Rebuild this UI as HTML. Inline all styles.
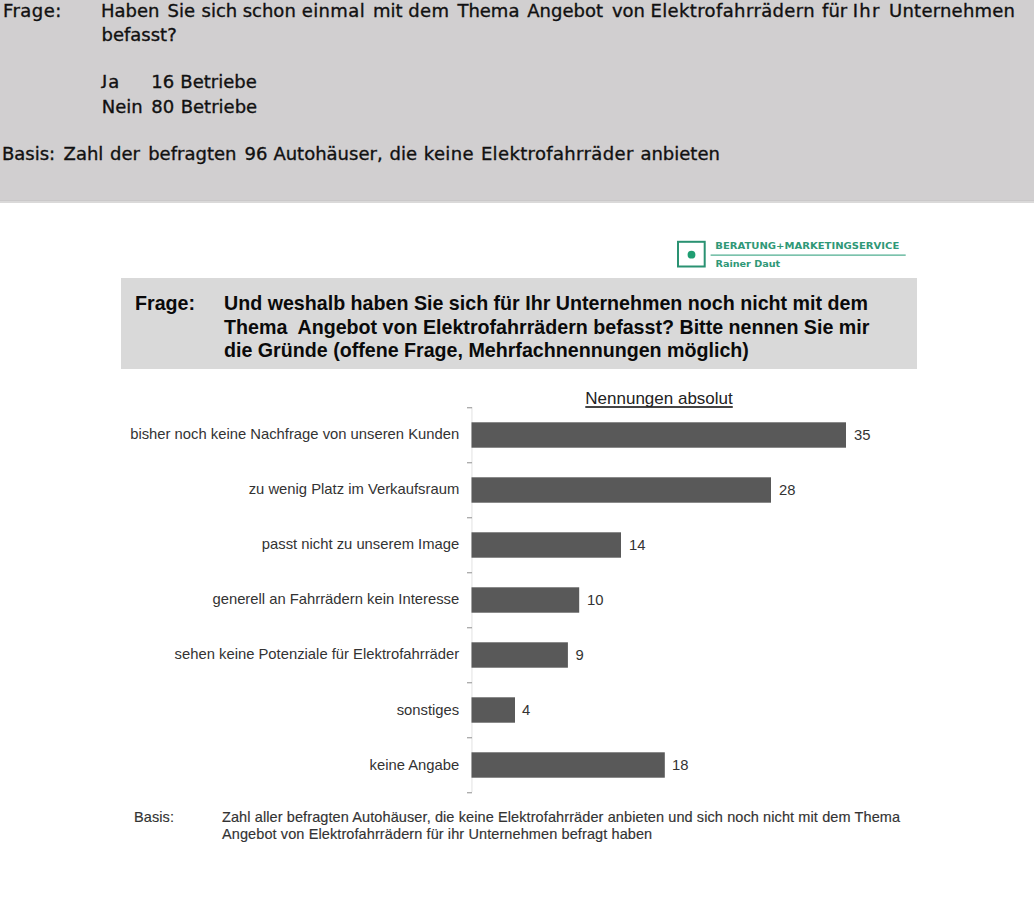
<!DOCTYPE html>
<html lang="de">
<head>
<meta charset="utf-8">
<title>Elektrofahrräder Umfrage</title>
<style>
html,body{margin:0;padding:0;background:#fff;}
body{width:1034px;height:900px;position:relative;overflow:hidden;}
.a{position:absolute;white-space:pre;}
#top{position:absolute;left:0;top:0;width:1034px;height:200px;background:#d1cfd0;border-bottom:1px solid #cac8c9;box-shadow:0 2px 0 #dad9d9;}
.v{font-family:"DejaVu Sans","Liberation Sans",sans-serif;font-size:18px;line-height:24px;color:#111;-webkit-text-stroke:0.35px #111;}
#box{position:absolute;left:121px;top:278px;width:796px;height:91px;background:#d9d9d9;}
.q{font-family:"Liberation Sans",Arial,sans-serif;font-weight:bold;font-size:19.65px;line-height:23.6px;color:#0a0a0a;}
.l{font-family:"Liberation Sans",Arial,sans-serif;font-size:14.8px;line-height:18px;color:#333;}
.b{font-family:"Liberation Sans",Arial,sans-serif;font-size:14.5px;line-height:17px;color:#333;letter-spacing:0.1px;-webkit-text-stroke:0.15px #333;}
</style>
</head>
<body>
<div id="top"></div>
<div class="a v" style="left:3px;top:-1px;letter-spacing:0.45px;">Frage:</div>
<span class="a v" style="left:100.9px;top:-1px;">Haben </span>
<span class="a v" style="left:167.5px;top:-1px;">Sie </span>
<span class="a v" style="left:201.6px;top:-1px;">sich </span>
<span class="a v" style="left:242.7px;top:-1px;">schon </span>
<span class="a v" style="left:301.7px;top:-1px;letter-spacing:0.4px;">einmal </span>
<span class="a v" style="left:372.9px;top:-1px;">mit </span>
<span class="a v" style="left:408.2px;top:-1px;letter-spacing:0.4px;">dem </span>
<span class="a v" style="left:457.4px;top:-1px;">Thema </span>
<span class="a v" style="left:527.3px;top:-1px;">Angebot </span>
<span class="a v" style="left:611.9px;top:-1px;">von </span>
<span class="a v" style="left:650.4px;top:-1px;letter-spacing:0.38px;">Elektrofahrrädern </span>
<span class="a v" style="left:822.1px;top:-1px;">für </span>
<span class="a v" style="left:852.8px;top:-1px;letter-spacing:1.2px;">Ihr </span>
<span class="a v" style="left:889.1px;top:-1px;letter-spacing:0.22px;">Unternehmen</span>
<div class="a v" style="left:101.5px;top:23px;">befasst?</div>
<div class="a v" style="left:102px;top:70px;letter-spacing:1px;"><span style="display:inline-block;transform:scaleY(0.8);transform-origin:0 5px;">J</span>a</div>
<div class="a v" style="left:151.2px;top:70px;">16</div>
<div class="a v" style="left:180.3px;top:70px;">Betriebe</div>
<div class="a v" style="left:101.8px;top:94.7px;">Nein</div>
<div class="a v" style="left:151.2px;top:94.7px;">80</div>
<div class="a v" style="left:180.7px;top:94.7px;">Betriebe</div>
<span class="a v" style="left:1.9px;top:142px;">Basis: </span>
<span class="a v" style="left:63.6px;top:142px;">Zahl </span>
<span class="a v" style="left:110.0px;top:142px;">der </span>
<span class="a v" style="left:148.2px;top:142px;">befragten </span>
<span class="a v" style="left:244.5px;top:142px;">96 </span>
<span class="a v" style="left:273.4px;top:142px;">Autohäuser, </span>
<span class="a v" style="left:389.5px;top:142px;">die </span>
<span class="a v" style="left:423.8px;top:142px;letter-spacing:0.35px;">keine </span>
<span class="a v" style="left:480.9px;top:142px;letter-spacing:0.35px;">Elektrofahrräder </span>
<span class="a v" style="left:640.4px;top:142px;">anbieten</span>

<!-- logo -->
<svg class="a" style="left:660px;top:230px;" width="260" height="45" viewBox="0 0 260 45">
  <rect x="18" y="11.8" width="26.7" height="24.7" fill="none" stroke="#2a9272" stroke-width="2"/>
  <circle cx="31.5" cy="24.7" r="3.9" fill="#1f9e72"/>
  <line x1="50.6" y1="25" x2="245.7" y2="25" stroke="#4fae90" stroke-width="1.25"/>
  <text x="55.3" y="18.9" font-family="DejaVu Sans, Liberation Sans, sans-serif" font-weight="bold" font-size="9.3" fill="#2f9877" textLength="184" lengthAdjust="spacingAndGlyphs">BERATUNG+MARKETINGSERVICE</text>
  <text x="55.5" y="36.9" font-family="DejaVu Sans, Liberation Sans, sans-serif" font-weight="bold" font-size="9.3" fill="#2f9877" textLength="64.7" lengthAdjust="spacingAndGlyphs">Rainer Daut</text>
</svg>

<div id="box"></div>
<div class="a q" style="left:135px;top:292px;">Frage:</div>
<div class="a q" style="left:224px;top:292px;">Und weshalb haben Sie sich für Ihr Unternehmen noch nicht mit dem
Thema  Angebot von Elektrofahrrädern befasst? Bitte nennen Sie mir
die Gründe (offene Frage, Mehrfachnennungen möglich)</div>

<div class="a" style="left:585.3px;top:389.2px;font-family:'Liberation Sans',Arial,sans-serif;font-size:17px;line-height:20px;color:#222;text-decoration:underline;text-underline-offset:2.2px;text-decoration-thickness:1.8px;text-decoration-skip-ink:none;text-decoration-color:#444;">Nennungen absolut</div>

<!-- axis -->
<svg class="a" style="left:0;top:0;" width="1034" height="900" viewBox="0 0 1034 900">
<rect x="471.3" y="407" width="1.3" height="385" fill="#e9e9e9"/>
<rect x="467" y="407.2" width="5" height="1.1" fill="#999"/>
<rect x="467" y="462.2" width="5" height="1.1" fill="#999"/>
<rect x="467" y="517.2" width="5" height="1.1" fill="#999"/>
<rect x="467" y="572.2" width="5" height="1.1" fill="#999"/>
<rect x="467" y="627.2" width="5" height="1.1" fill="#999"/>
<rect x="467" y="682.2" width="5" height="1.1" fill="#999"/>
<rect x="467" y="737.2" width="5" height="1.1" fill="#999"/>
<rect x="467" y="792.2" width="5" height="1.1" fill="#999"/>
<rect x="471.5" y="422.3" width="374.5" height="25.4" fill="#595959"/>
<rect x="471.5" y="477.3" width="299.5" height="25.4" fill="#595959"/>
<rect x="471.5" y="532.3" width="149.5" height="25.4" fill="#595959"/>
<rect x="471.5" y="587.3" width="107.7" height="25.4" fill="#595959"/>
<rect x="471.5" y="642.3" width="96.4" height="25.4" fill="#595959"/>
<rect x="471.5" y="697.3" width="43.5" height="25.4" fill="#595959"/>
<rect x="471.5" y="752.3" width="193.3" height="25.4" fill="#595959"/>
</svg>

<div class="a l" style="right:574.8px;top:425px;">bisher noch keine Nachfrage von unseren Kunden</div>
<div class="a l" style="right:574.8px;top:480px;">zu wenig Platz im Verkaufsraum</div>
<div class="a l" style="right:574.8px;top:535px;">passt nicht zu unserem Image</div>
<div class="a l" style="right:574.8px;top:590px;">generell an Fahrrädern kein Interesse</div>
<div class="a l" style="right:574.8px;top:645px;">sehen keine Potenziale für Elektrofahrräder</div>
<div class="a l" style="right:574.8px;top:700.6px;">sonstiges</div>
<div class="a l" style="right:574.8px;top:755.8px;">keine Angabe</div>

<div class="a l" style="left:854px;top:426px;">35</div>
<div class="a l" style="left:779px;top:481px;">28</div>
<div class="a l" style="left:629px;top:536px;">14</div>
<div class="a l" style="left:587px;top:591px;">10</div>
<div class="a l" style="left:575.6px;top:646px;">9</div>
<div class="a l" style="left:522px;top:701px;">4</div>
<div class="a l" style="left:672px;top:756px;">18</div>

<div class="a b" style="left:134px;top:808.7px;">Basis:</div>
<div class="a b" style="left:222px;top:808.7px;">Zahl aller befragten Autohäuser, die keine Elektrofahrräder anbieten und sich noch nicht mit dem Thema
Angebot von Elektrofahrrädern für ihr Unternehmen befragt haben</div>
</body>
</html>
